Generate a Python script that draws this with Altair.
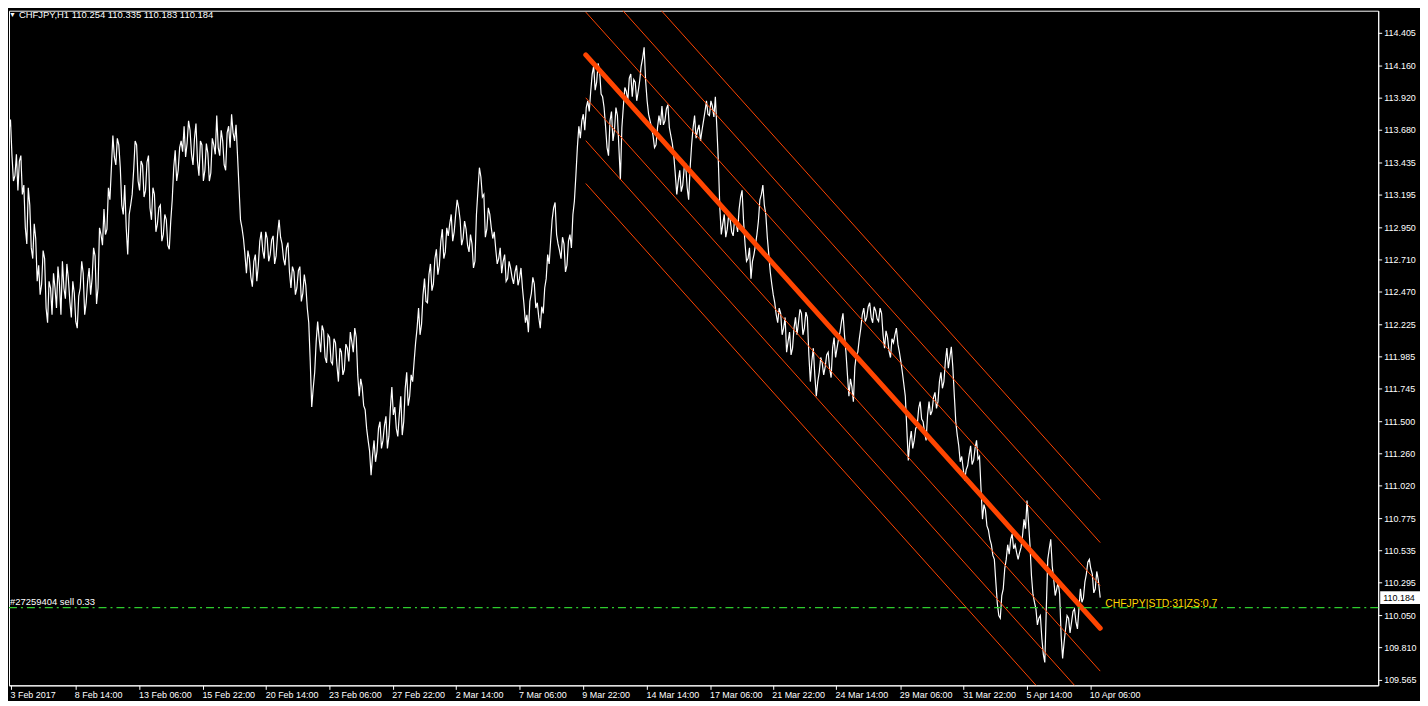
import altair as alt
import pandas as pd

# ---------------- data ----------------
# CHFJPY H1 prices, one value every 3 hourly bars starting at bar 0
close_prices = [
    113.68, 113.49, 113.34, 113.23, 113.49, 113.27, 112.83, 113.12, 112.72, 112.87,
    112.67, 112.53, 112.72, 112.24, 112.50, 112.61, 112.35, 112.53, 112.70, 112.42,
    112.57, 112.28, 112.46, 112.20, 112.50, 112.61, 112.39, 112.65, 112.57, 112.74,
    112.50, 112.90, 113.09, 112.94, 113.16, 113.64, 113.42, 113.57, 113.12, 113.27,
    112.75, 113.12, 113.38, 113.57, 113.23, 113.42, 113.23, 113.49, 113.01, 113.20,
    112.98, 113.12, 112.90, 113.01, 112.79, 113.16, 113.53, 113.38, 113.60, 113.71,
    113.58, 113.68, 113.42, 113.73, 113.34, 113.57, 113.38, 113.51, 113.36, 113.57,
    113.79, 113.49, 113.60, 113.38, 113.71, 113.80, 113.60, 113.49, 113.01, 112.87,
    112.61, 112.72, 112.51, 112.75, 112.67, 112.92, 112.72, 112.87, 112.75, 112.89,
    112.74, 113.01, 112.83, 112.67, 112.84, 112.50, 112.62, 112.50, 112.66, 112.46,
    112.52, 112.24, 111.61, 111.87, 112.25, 112.02, 112.18, 111.94, 112.13, 111.93,
    112.09, 111.80, 112.02, 111.89, 112.05, 112.17, 112.02, 112.13, 111.69, 111.76,
    111.59, 111.36, 111.10, 111.36, 111.28, 111.50, 111.36, 111.54, 111.39, 111.76,
    111.61, 111.39, 111.69, 111.50, 111.87, 111.69, 111.80, 112.09, 112.35, 112.23,
    112.57, 112.39, 112.68, 112.53, 112.79, 112.67, 112.94, 112.77, 112.89, 113.05,
    112.92, 113.16, 113.01, 112.87, 112.94, 112.77, 112.83, 112.70, 113.23, 113.33,
    113.20, 112.94, 113.05, 112.87, 112.79, 112.72, 112.61, 112.75, 112.57, 112.65,
    112.53, 112.67, 112.57, 112.50, 112.24, 112.17, 112.46, 112.53, 112.39, 112.20,
    112.31, 112.57, 112.68, 113.01, 113.14, 112.83, 112.72, 112.83, 112.67, 112.90,
    113.05, 113.34, 113.71, 113.75, 113.68, 113.90, 113.97, 114.16, 114.04, 114.12,
    113.93, 113.71, 113.49, 113.82, 113.68, 113.79, 113.31, 113.86, 113.97, 114.07,
    113.93, 114.04, 113.97, 114.16, 114.30, 113.90, 113.75, 113.64, 113.57, 113.79,
    113.86, 113.75, 113.87, 113.64, 113.49, 113.20, 113.38, 113.27, 113.42, 113.16,
    113.57, 113.79, 113.68, 113.60, 113.75, 113.90, 113.79, 113.86, 113.93, 113.45,
    112.90, 113.05, 112.94, 113.01, 112.89, 112.99, 113.09, 113.23, 112.83, 112.72,
    112.57, 112.75, 112.90, 113.16, 113.27, 113.05, 112.75, 112.53, 112.39, 112.24,
    112.31, 112.20, 112.02, 112.17, 112.05, 112.28, 112.24, 112.31, 112.20, 112.28,
    111.80, 112.05, 111.69, 111.87, 111.94, 111.91, 112.02, 111.83, 112.13, 112.05,
    112.17, 112.31, 112.02, 111.69, 111.76, 111.91, 112.02, 112.20, 112.35, 112.28,
    112.39, 112.24, 112.33, 112.25, 112.31, 112.05, 112.13, 111.98, 112.09, 112.20,
    112.02, 111.87, 111.69, 111.21, 111.43, 111.36, 111.47, 111.65, 111.50, 111.36,
    111.65, 111.58, 111.72, 111.65, 111.87, 111.80, 112.05, 111.98, 111.91, 111.50,
    111.32, 111.24, 111.06, 111.17, 111.32, 111.21, 111.36, 111.24, 110.77, 110.84,
    110.69, 110.58, 110.47, 110.14, 110.03, 110.25, 110.47, 110.51, 110.66, 110.58,
    110.47, 110.56, 110.77, 110.91, 110.58, 110.21, 110.10, 110.03, 109.88, 109.70,
    110.47, 110.62, 110.32, 110.25, 110.21, 109.73, 109.95, 110.03, 110.00, 110.10,
    109.95, 110.25, 110.18, 110.36, 110.47, 110.36, 110.25, 110.32,
]
# spikes read between consecutive values above (bar 3*i + 1.5)
between_prices = [
    113.76, 113.30, 113.50, 113.45, 113.20, 112.95, 113.25, 112.80, 112.98, 112.55,
    112.45, 112.78, 112.35, 112.55, 112.30, 112.50, 112.66, 112.30, 112.50, 112.68,
    112.40, 112.55, 112.25, 112.44, 112.70, 112.30, 112.55, 112.45, 112.80, 112.38,
    112.95, 112.82, 112.90, 113.25, 113.40, 113.48, 113.62, 113.40, 113.05, 112.95,
    113.05, 113.20, 113.60, 113.30, 113.45, 113.18, 113.44, 113.10, 113.25, 112.92,
    113.10, 112.85, 113.05, 112.82, 113.00, 113.40, 113.30, 113.55, 113.52, 113.48,
    113.75, 113.50, 113.62, 113.45, 113.60, 113.30, 113.58, 113.30, 113.62, 113.50,
    113.55, 113.68, 113.42, 113.66, 113.55, 113.66, 113.72, 113.25, 112.95, 112.75,
    112.78, 112.58, 112.70, 112.55, 112.85, 112.78, 112.92, 112.70, 112.86, 112.68,
    112.90, 112.88, 112.72, 112.80, 112.62, 112.66, 112.45, 112.63, 112.40, 112.60,
    112.35, 111.95, 111.75, 112.10, 112.12, 112.22, 111.98, 112.15, 111.95, 112.12,
    111.92, 112.05, 111.85, 112.08, 111.95, 112.10, 112.20, 111.85, 111.82, 111.62,
    111.45, 111.28, 111.25, 111.20, 111.45, 111.30, 111.47, 111.30, 111.60, 111.55,
    111.45, 111.55, 111.40, 111.75, 111.62, 111.85, 111.95, 112.20, 112.15, 112.45,
    112.40, 112.60, 112.48, 112.72, 112.60, 112.85, 112.72, 112.95, 112.98, 112.85,
    113.05, 113.10, 112.82, 113.00, 112.82, 112.90, 112.65, 113.05, 113.40, 113.18,
    112.88, 113.10, 112.95, 112.92, 112.68, 112.80, 112.70, 112.55, 112.70, 112.58,
    112.62, 112.52, 112.65, 112.38, 112.30, 112.40, 112.58, 112.35, 112.28, 112.36,
    112.50, 112.75, 112.85, 113.10, 112.90, 112.78, 112.88, 112.62, 112.85, 112.80,
    113.15, 113.55, 113.62, 113.80, 113.85, 113.82, 114.10, 113.98, 114.18, 113.95,
    113.85, 113.55, 113.75, 113.60, 113.85, 113.55, 113.70, 114.00, 113.90, 114.10,
    114.06, 113.90, 114.05, 114.22, 114.05, 113.80, 113.70, 113.55, 113.70, 113.72,
    113.72, 113.84, 113.70, 113.58, 113.35, 113.30, 113.22, 113.40, 113.25, 113.40,
    113.70, 113.62, 113.72, 113.68, 113.82, 113.80, 113.90, 113.78, 113.70, 113.10,
    112.98, 112.88, 113.05, 112.92, 113.02, 112.92, 113.18, 113.00, 112.70, 112.80,
    112.70, 112.82, 113.00, 113.20, 113.12, 112.88, 112.62, 112.45, 112.30, 112.35,
    112.15, 112.28, 112.10, 112.00, 112.20, 112.15, 112.34, 112.15, 112.32, 112.00,
    111.95, 111.85, 111.80, 111.98, 111.85, 112.00, 111.90, 112.05, 111.98, 112.12,
    112.25, 112.15, 111.85, 111.82, 111.65, 112.00, 112.12, 112.30, 112.25, 112.36,
    112.28, 112.36, 112.27, 112.35, 112.15, 112.18, 112.03, 112.12, 112.15, 112.08,
    111.95, 111.78, 111.45, 111.35, 111.30, 111.45, 111.60, 111.52, 111.42, 111.55,
    111.55, 111.68, 111.60, 111.80, 111.75, 111.95, 111.90, 112.06, 111.70, 111.40,
    111.20, 111.15, 111.14, 111.25, 111.18, 111.30, 111.22, 111.00, 110.88, 110.72,
    110.62, 110.50, 110.30, 110.05, 110.20, 110.40, 110.58, 110.62, 110.55, 110.52,
    110.52, 110.65, 110.70, 110.75, 110.35, 110.15, 109.98, 110.05, 109.76, 110.10,
    110.55, 110.42, 110.20, 110.30, 109.90, 109.85, 110.05, 109.92, 110.08, 110.00,
    110.10, 110.15, 110.30, 110.45, 110.40, 110.22, 110.38,
]
bar_step = 3
last_bar = 1103
last_price = 110.184

# regression channel (centre line ends and standard-deviation step)
channel_bars = [583, 1103]
channel_center = [114.243, 109.955]
channel_step = 0.3205
channel_levels = [-3, -2, -1, 1, 2, 3]

# order line
order_price = 110.11
order_label = "#27259404 sell 0.33"
indicator_label = "CHFJPY|STD:31|ZS:0.7"
indicator_bar = 1108

title_text = "CHFJPY,H1  110.254 110.335 110.183 110.184"

# axes
y_ticks = [114.405, 114.160, 113.920, 113.680, 113.435, 113.195, 112.950, 112.710,
           112.470, 112.225, 111.985, 111.745, 111.500, 111.260, 111.020, 110.775,
           110.535, 110.295, 110.050, 109.810, 109.565]
x_tick_bars = [2, 67, 132, 196, 260, 324, 388, 452, 516, 580, 645, 709, 772, 836,
               901, 965, 1029, 1093]
x_tick_labels = ["3 Feb 2017", "8 Feb 14:00", "13 Feb 06:00", "15 Feb 22:00",
                 "20 Feb 14:00", "23 Feb 06:00", "27 Feb 22:00", "2 Mar 14:00",
                 "7 Mar 06:00", "9 Mar 22:00", "14 Mar 14:00", "17 Mar 06:00",
                 "21 Mar 22:00", "24 Mar 14:00", "29 Mar 06:00", "31 Mar 22:00",
                 "5 Apr 14:00", "10 Apr 06:00"]

# ---------------- tables ----------------
bars, prices = [], []
for i, p in enumerate(close_prices):
    bars.append(bar_step * i)
    prices.append(p)
    if i < len(between_prices):
        bars.append(bar_step * i + bar_step / 2)
        prices.append(between_prices[i])
bars.append(last_bar)
prices.append(last_price)
price_df = pd.DataFrame({"bar": bars, "price": prices})

center_df = pd.DataFrame({"bar": channel_bars, "price": channel_center})
rows = []
for lv in channel_levels:
    for b, c in zip(channel_bars, channel_center):
        rows.append({"bar": b, "price": c + lv * channel_step, "level": lv})
bands_df = pd.DataFrame(rows)

order_df = pd.DataFrame({"price": [order_price], "label": [order_label],
                         "ind": [indicator_label], "bar": [indicator_bar]})
last_df = pd.DataFrame({"price": [last_price], "hi": [last_price + 0.047],
                        "lo": [last_price - 0.047], "label": [f"{last_price:.3f}"]})
title_df = pd.DataFrame({"t": [title_text]})
ytick_df = pd.DataFrame({"price": y_ticks, "label": [f"{v:.3f}" for v in y_ticks]})

# ---------------- chart ----------------
W, H = 1376, 678
FONT = "Liberation Sans"
xs = alt.Scale(domain=[0, 1384], nice=False, zero=False)
ys = alt.Scale(domain=[109.528, 114.574], nice=False, zero=False)

arr_b = "[" + ",".join(str(b) for b in x_tick_bars) + "]"
arr_l = "[" + ",".join("'" + s + "'" for s in x_tick_labels) + "]"
label_expr = f"{arr_l}[indexof({arr_b}, datum.value)]"

x_axis = alt.Axis(values=x_tick_bars, labelExpr=label_expr, title=None, grid=False,
                  labelAlign="left", labelColor="white", labelFont=FONT, labelFontSize=9,
                  labelPadding=1, labelOffset=-1, tickSize=4, tickColor="white",
                  domainColor="white", labelFlush=False, labelOverlap=False,
                  labelBaseline="top")
y_axis = alt.Axis(orient="right", title=None, grid=False, labels=False, ticks=False,
                  domainColor="white")

price_line = alt.Chart(price_df).mark_line(color="white", strokeWidth=1.2, clip=True).encode(
    x=alt.X("bar:Q", scale=xs, axis=x_axis),
    y=alt.Y("price:Q", scale=ys, axis=y_axis),
)

# right-hand price scale: tick marks and labels placed through the y scale
y_tick_marks = alt.Chart(ytick_df).mark_rule(color="white", strokeWidth=1).encode(
    x=alt.value(W), x2=alt.value(W + 4), y="price:Q")
y_tick_text = alt.Chart(ytick_df).mark_text(align="left", baseline="middle", color="white",
                                            font=FONT, fontSize=9).encode(
    x=alt.value(W + 6), y="price:Q", text="label:N")

bands = alt.Chart(bands_df).mark_line(color="#FF4500", strokeWidth=1, clip=True).encode(
    x="bar:Q", y="price:Q", detail="level:N")

center = alt.Chart(center_df).mark_line(color="#FF4500", strokeWidth=5, clip=True,
                                        strokeCap="round").encode(x="bar:Q", y="price:Q")

order_line = alt.Chart(order_df).mark_rule(color="#2ECC2E", strokeWidth=1.3,
                                           strokeDash=[8, 4, 2, 4]).encode(y="price:Q")

order_text = alt.Chart(order_df).mark_text(align="left", baseline="alphabetic", dy=-3,
                                           color="white", font=FONT, fontSize=9.5).encode(
    x=alt.value(1), y="price:Q", text="label:N")

ind_text = alt.Chart(order_df).mark_text(align="left", baseline="alphabetic", dy=-1,
                                         color="#FFD700", font=FONT, fontSize=10.5).encode(
    x="bar:Q", y="price:Q", text="ind:N")

last_box = alt.Chart(last_df).mark_rect(color="white", clip=False).encode(
    x=alt.value(W + 2), x2=alt.value(W + 42), y="hi:Q", y2="lo:Q")
last_text = alt.Chart(last_df).mark_text(align="left", baseline="middle", color="black",
                                         font=FONT, fontSize=9, clip=False).encode(
    x=alt.value(W + 5), y="price:Q", text="label:N")

title_tri = alt.Chart(title_df).mark_text(text="▼", color="white", fontSize=7,
                                          align="left", baseline="middle").encode(
    x=alt.value(0), y=alt.value(4))
title_txt = alt.Chart(title_df).mark_text(align="left", baseline="middle", color="white",
                                          font=FONT, fontSize=9.5).encode(
    x=alt.value(10), y=alt.value(4), text="t:N")

chart = alt.layer(
    price_line, bands, center, order_line, order_text, ind_text,
    y_tick_marks, y_tick_text, last_box, last_text, title_tri, title_txt,
).properties(
    width=W, height=H, background="black", padding=0,
).configure_view(
    stroke="white", strokeWidth=1, fill="black",
)

chart.save("out.html", embed_options={"renderer": "svg", "actions": False})
